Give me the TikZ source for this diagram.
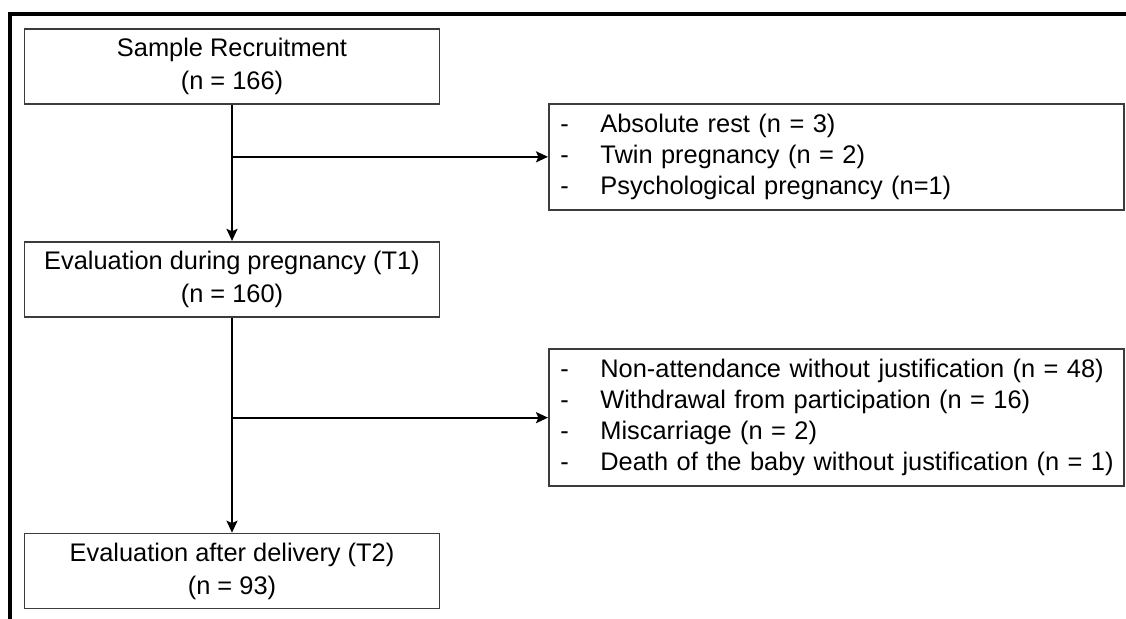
\documentclass[tikz,border=0pt]{standalone}
\usepackage{fontspec}
\setmainfont{Liberation Sans}
\usepackage{xcolor}
\usepackage{tikz}
\usetikzlibrary{arrows.meta,positioning,calc}
\definecolor{boxline}{RGB}{60,60,60}
\newcommand{\excl}[1]{\mbox{\makebox[20pt][l]{-}#1}}

\begin{document}
\begin{tikzpicture}[
    x=0.5pt, y=-0.5pt,
    node distance=68pt,
    component/.style={draw=boxline, line width=0.9pt, minimum width=207.5pt, minimum height=37.5pt, align=center, font=\fontsize{12.7}{16.5}\selectfont},
    sidebox/.style={draw=boxline, line width=0.9pt, text width=276pt, inner xsep=5.75pt, align=left, font=\fontsize{12.7}{15.5}\selectfont},
    arrow/.style={-{Stealth[length=6pt,width=5.5pt,inset=1.2pt]}, line width=1pt},
    frame/.style={line width=2pt}
]
    \useasboundingbox (0,0) rectangle (1126,619);

    % Frame
    \draw[frame] (1126,14) -- (10,14) -- (10,619);

    % Main flow
    \node[component] (recruit) at (232,66.5) {Sample Recruitment\\(n = 166)};
    \node[component, below=of recruit] (preg) {Evaluation during pregnancy (T1)\\(n = 160)};
    \node[component, below=107.5pt of preg] (delivery) {Evaluation after delivery (T2)\\(n = 93)};

    % Split points
    \coordinate (split1) at ($(recruit.south)!0.382!(preg.north)$);
    \coordinate (split2) at ($(preg.south)!0.465!(delivery.north)$);

    % Exclusions
    \node[sidebox, minimum height=53pt, right=158pt of split1] (excl1) {\excl{Absolute rest (n = 3)}\\\excl{Twin pregnancy (n = 2)}\\\excl{Psychological pregnancy (n=1)}};
    \node[sidebox, minimum height=68.5pt, right=158pt of split2] (excl2) {\excl{Non-attendance without justification (n = 48)}\\\excl{Withdrawal from participation (n = 16)}\\\excl{Miscarriage (n = 2)}\\\excl{Death of the baby without justification (n = 1)}};

    % Connections
    \draw[arrow] (recruit) -- (preg);
    \draw[arrow] (preg) -- (delivery);
    \draw[arrow] (split1) -- (excl1);
    \draw[arrow] (split2) -- (excl2);
\end{tikzpicture}
\end{document}
